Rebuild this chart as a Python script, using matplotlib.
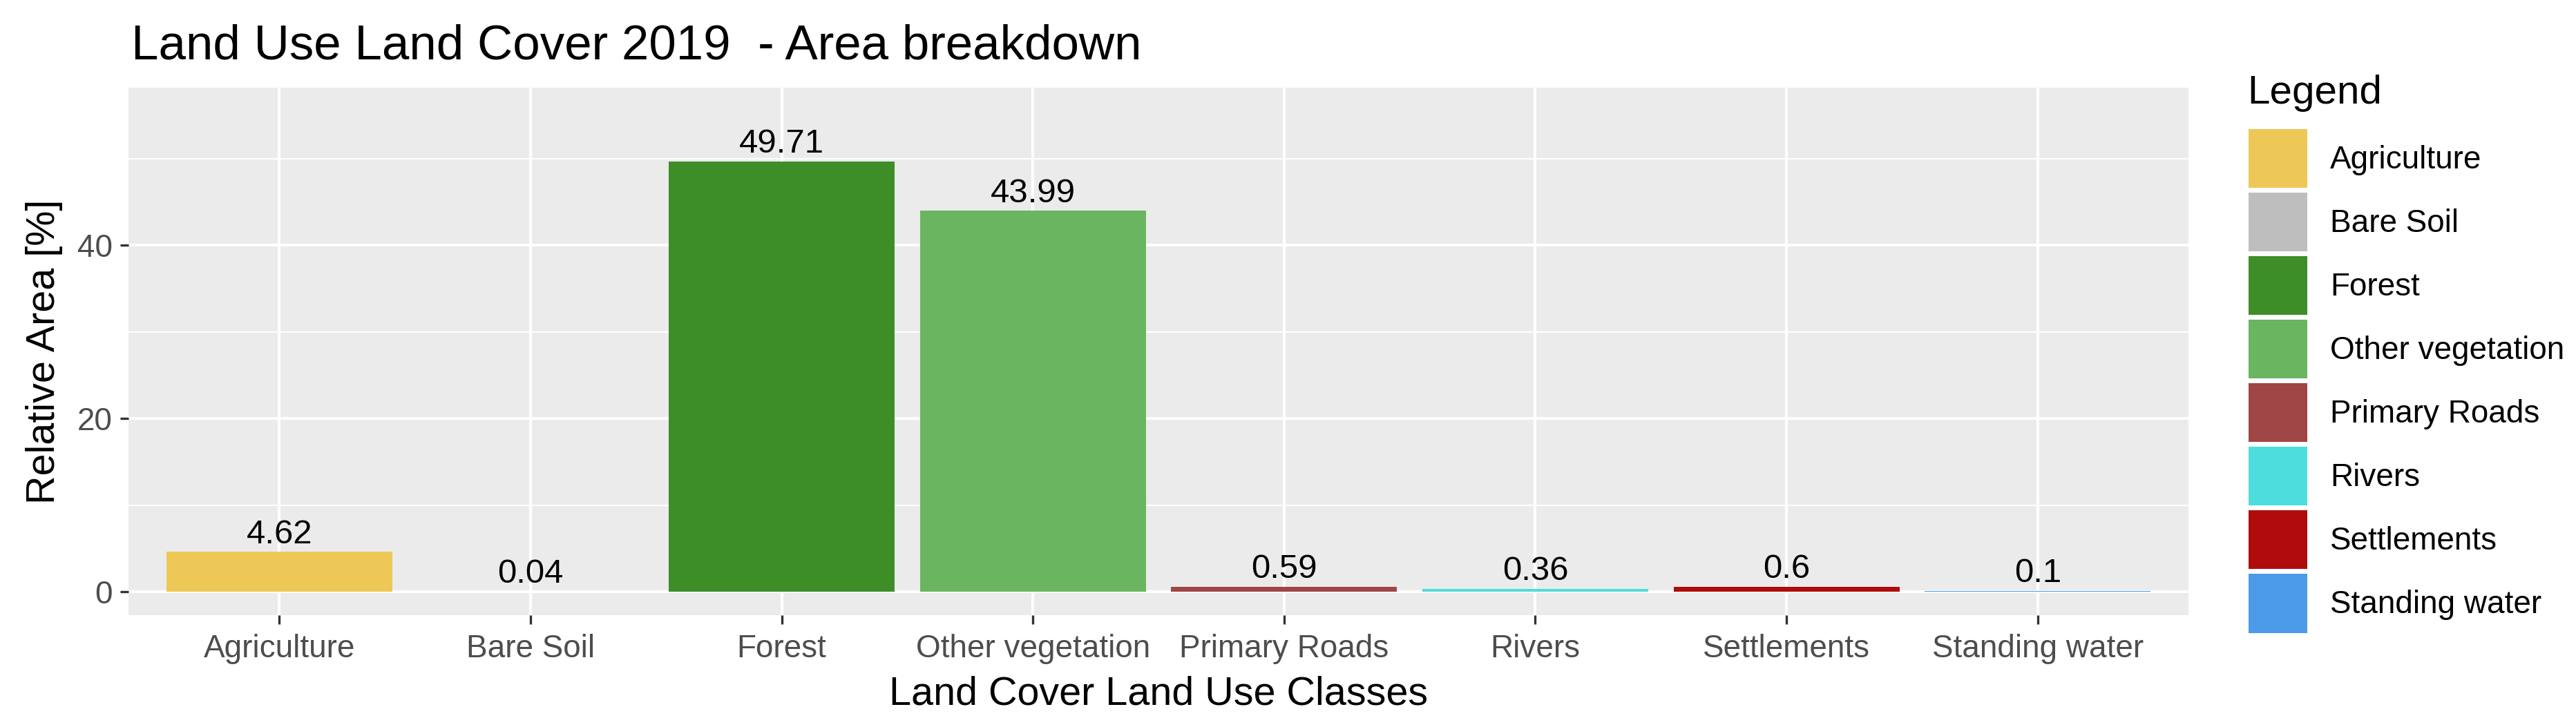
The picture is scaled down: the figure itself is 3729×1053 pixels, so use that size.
import matplotlib.pyplot as plt
import numpy as np
from matplotlib.patches import Patch


classes = ['Agriculture', 'Bare Soil', 'Forest', 'Other vegetation',
           'Primary Roads', 'Rivers', 'Settlements', 'Standing water']
area_pct = [4.62, 0.04, 49.71, 43.99, 0.59, 0.36, 0.6, 0.1]
area_text = ['4.62', '0.04', '49.71', '43.99', '0.59', '0.36', '0.6', '0.1']
colours = ['#EDC856', '#BEBEBE', '#3E8E27', '#6AB55F',
           '#A04545', '#4DDDDD', '#B00C0C', '#4C9BE8']
y_ticks = [0, 20, 40]
y_minor = [10, 30, 50]

plt.rcParams['font.family'] = ['Liberation Sans', 'DejaVu Sans']

W, H = 3729, 1053
fig = plt.figure(figsize=(W / 300, H / 300), dpi=300)

# panel placed in pixel terms of the reference
left, right, top, bottom = 186, 3168, 127, 891
ax = fig.add_axes([left / W, 1 - bottom / H, (right - left) / W, (bottom - top) / H])
ax.set_facecolor('#EBEBEB')

x = np.arange(1, len(classes) + 1)
bars = ax.bar(x, area_pct, width=0.9, color=colours, zorder=3)

for xi, val, txt in zip(x, area_pct, area_text):
  ax.annotate(txt, (xi, val), xytext=(0, 3), textcoords='offset points',
              ha='center', va='baseline', fontsize=11.8, color='black')

ax.set_ylim(-2.7, 58.2)
ax.set_xlim(0.4, len(classes) + 0.6)

ax.set_yticks(y_ticks)
ax.set_yticks(y_minor, minor=True)
ax.set_xticks(x)
ax.set_xticklabels(classes)
ax.grid(which='major', color='white', linewidth=1.0, zorder=0)
ax.grid(which='minor', axis='y', color='white', linewidth=0.5, zorder=0)
ax.tick_params(which='major', length=3, width=0.8, color='#333333',
               labelcolor='#4D4D4D', labelsize=11, pad=2.5)
ax.tick_params(axis='x', pad=3.5)
ax.tick_params(which='minor', length=0)
for s in ax.spines.values():
  s.set_visible(False)

ax.set_xlabel('Land Cover Land Use Classes', fontsize=13.8, labelpad=4)
ax.set_ylabel('Relative Area [%]', fontsize=13.8, labelpad=5)

fig.text(190 / W, 1 - 85 / H, 'Land Use Land Cover 2019  - Area breakdown',
         fontsize=17, va='baseline', ha='left')

# legend: title as plain text, keys from the bar colours
fig.text(3253 / W, 1 - 150 / H, 'Legend', fontsize=14, va='baseline', ha='left')
handles = [Patch(facecolor=c, edgecolor='none') for c in colours]
leg = fig.legend(handles, classes, loc='upper left',
                 bbox_to_anchor=(3255 / W, 1 - 187 / H), frameon=False,
                 fontsize=11, handlelength=1.855, handleheight=2.478,
                 labelspacing=0.153, handletextpad=0.72,
                 borderpad=0, borderaxespad=0)

fig.savefig('out.png', dpi=300)
